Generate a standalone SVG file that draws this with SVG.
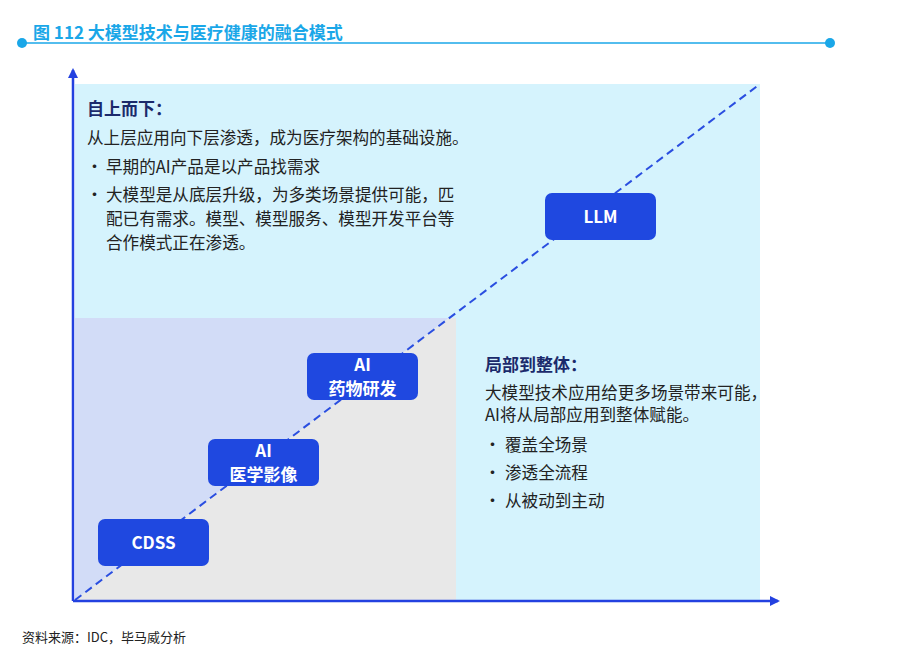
<svg xmlns="http://www.w3.org/2000/svg" width="909" height="661" viewBox="0 0 909 661">
<style>
text{font-family:"Noto Sans CJK SC","Noto Sans",sans-serif}
.t{font-size:16.6px;fill:#222}
.b{font-size:17px;fill:#222}
.h{font-size:17px;font-weight:bold;fill:#1b2a6b}
.n rect{fill:#1f48e0}
.n text{font-size:17px;font-weight:bold;fill:#fff;text-anchor:middle}
</style>
<defs>
<marker id="ar" markerWidth="10" markerHeight="10" refX="8" refY="5" orient="auto" markerUnits="userSpaceOnUse"><path d="M0,0 L10,5 L0,10 Z" fill="#2341e0"/></marker>
</defs>
<rect width="909" height="661" fill="#fff"/>
<text x="33" y="39" style="font-size:17px;font-weight:bold;fill:#1aa7e8">图 112 大模型技术与医疗健康的融合模式</text>
<line x1="22" y1="43" x2="830" y2="43" stroke="#1aa7e8" stroke-width="1.5"/>
<circle cx="22" cy="43" r="5" fill="#1aa7e8"/>
<circle cx="830" cy="43" r="5" fill="#1aa7e8"/>
<rect x="75" y="84" width="685" height="516" fill="#d5f3fd"/>
<polygon points="75,318 449,318 75,600" fill="#d2dcf7"/>
<polygon points="449,318 456,318 456,600 75,600" fill="#e8e8e8"/>
<g id="connectors">
<line x1="75" y1="600" x2="760" y2="84" stroke="#2a4ee0" stroke-width="2" stroke-dasharray="8,5"/>
<line x1="73" y1="601" x2="73" y2="70" stroke="#2341e0" stroke-width="2.5" marker-end="url(#ar)"/>
<line x1="73" y1="601" x2="778" y2="601" stroke="#2341e0" stroke-width="2.5" marker-end="url(#ar)"/>
</g>
<g id="n1" class="n"><rect x="98" y="519" width="111" height="47" rx="7"/><text x="153.5" y="549">CDSS</text></g>
<g id="n2" class="n"><rect x="208" y="439" width="111" height="47" rx="7"/><text x="263.5" y="457">AI</text><text x="263.5" y="481">医学影像</text></g>
<g id="n3" class="n"><rect x="307" y="353" width="111" height="47" rx="7"/><text x="362.5" y="371">AI</text><text x="362.5" y="395">药物研发</text></g>
<g id="n4" class="n"><rect x="545" y="193" width="111" height="47" rx="7"/><text x="600.5" y="223">LLM</text></g>
<text x="87" y="115" class="h">自上而下：</text>
<text x="87" y="144" class="t">从上层应用向下层渗透，成为医疗架构的基础设施。</text>
<text x="86" y="173" class="b">•</text><text x="106" y="173" class="t">早期的AI产品是以产品找需求</text>
<text x="86" y="201" class="b">•</text><text x="106" y="201" class="t">大模型是从底层升级，为多类场景提供可能，匹</text>
<text x="106" y="225" class="t">配已有需求。模型、模型服务、模型开发平台等</text>
<text x="106" y="249" class="t">合作模式正在渗透。</text>
<text x="485" y="371" class="h">局部到整体：</text>
<text x="485" y="399" class="t">大模型技术应用给更多场景带来可能，</text>
<text x="485" y="421" class="t">AI将从局部应用到整体赋能。</text>
<text x="484" y="451" class="b">•</text><text x="505" y="451" class="t">覆盖全场景</text>
<text x="484" y="479" class="b">•</text><text x="505" y="479" class="t">渗透全流程</text>
<text x="484" y="507" class="b">•</text><text x="505" y="507" class="t">从被动到主动</text>
<text x="22" y="642" style="font-size:13px;fill:#222">资料来源：IDC，毕马威分析</text>
</svg>
